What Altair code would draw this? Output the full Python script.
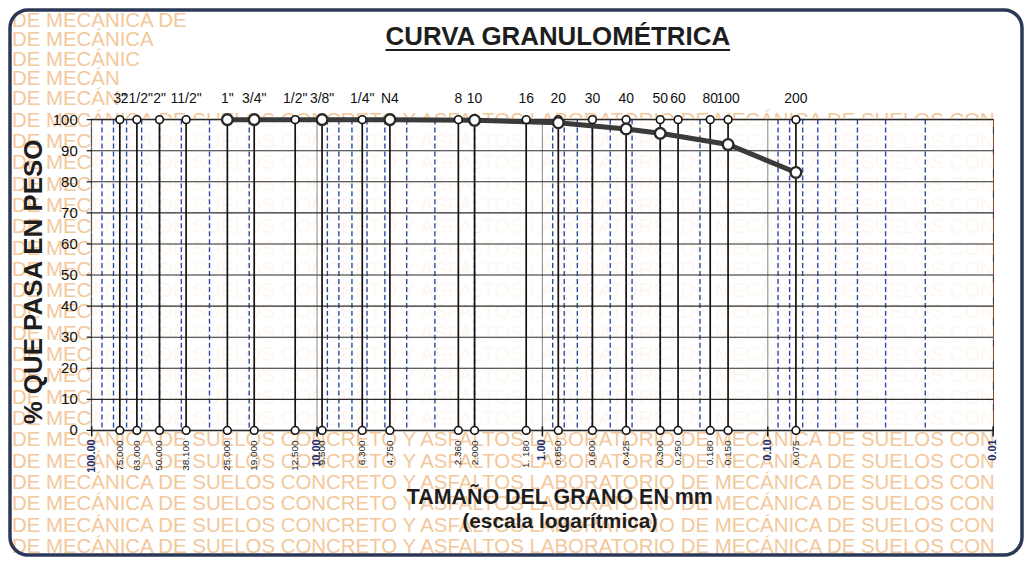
import altair as alt
import pandas as pd

# ---------------- data ----------------
sieve_names = ['3"', '21/2"', '2"', '11/2"', '1"', '3/4"', '1/2"', '3/8"', '1/4"', 'N4',
               '8', '10', '16', '20', '30', '40', '50', '60', '80', '100', '200']
sieve_mm = [75.0, 63.0, 50.0, 38.1, 25.0, 19.0, 12.5, 9.5, 6.3, 4.75,
            2.36, 2.0, 1.18, 0.85, 0.6, 0.425, 0.3, 0.25, 0.18, 0.15, 0.075]
sieve_mm_labels = ['75.000', '63.000', '50.000', '38.100', '25.000', '19.000', '12.500', '9.500',
                   '6.300', '4.750', '2.360', '2.000', '1. 180', '0.850', '0.600', '0.425',
                   '0.300', '0.250', '0.180', '0.150', '0.075']
decade_mm = [100, 10, 1, 0.1, 0.01]
decade_labels = ['100.00', '10.00', '1.00', '0.10', '0.01']
inner_decades = [10, 1, 0.1]
minor_mm = [90, 80, 70, 60, 50, 40, 30, 20,
            9, 8, 7, 6, 5, 4, 3, 2,
            0.9, 0.8, 0.7, 0.6, 0.5, 0.4, 0.3, 0.2,
            0.09, 0.08, 0.07, 0.06, 0.05, 0.04, 0.03, 0.02]
curve_mm = [25.0, 19.0, 9.5, 4.75, 2.0, 0.85, 0.425, 0.3, 0.15, 0.075]
curve_pct = [100, 100, 100, 100, 99.8, 99.0, 97.0, 95.6, 92.0, 83.0]
pct_ticks = [0, 10, 20, 30, 40, 50, 60, 70, 80, 90, 100]

title_text = 'CURVA GRANULOMÉTRICA'
y_title = '% QUE PASA EN PESO'
x_title1 = 'TAMAÑO DEL GRANO EN mm'
x_title2 = '(escala logarítmica)'
wm_full = 'DE MECÁNICA DE SUELOS CONCRETO Y ASFALTOS LABORATORIO DE MECÁNICA DE SUELOS CON'
wm_short = ['DE MECÁNICA DE', 'DE MECÁNICA', 'DE MECÁNIC', 'DE MECÁN', 'DE MECÁN']

FONT = 'Liberation Sans'
W, H = 905, 312

xs = alt.Scale(type='log', domain=[0.01, 100], reverse=True, nice=False)
ys = alt.Scale(domain=[0, 100], nice=False, zero=False)

sieves = pd.DataFrame({'mm': sieve_mm, 'name': sieve_names, 'lab': sieve_mm_labels,
                       'lo': 0, 'hi': 100})
ends = pd.DataFrame({'mm': sieve_mm * 2, 'pct': [0] * len(sieve_mm) + [100] * len(sieve_mm)})
curve = pd.DataFrame({'mm': curve_mm, 'pct': curve_pct})
minor = pd.DataFrame({'mm': minor_mm})
inner = pd.DataFrame({'mm': inner_decades})
decades = pd.DataFrame({'mm': decade_mm, 'lab': decade_labels, 'lo': 0})
yt = pd.DataFrame({'pct': pct_ticks})
one = pd.DataFrame({'k': [0]})

X = lambda f='mm:Q': alt.X(f, scale=xs, axis=None)
Y = lambda f: alt.Y(f, scale=ys, axis=None)


def label(txt, x, y, size, angle=0, weight='bold', color='#1e1e1e', align='center', opacity=1.0):
    kw = dict(align=align, baseline='middle', font=FONT, fontSize=size, fontWeight=weight,
              color=color, opacity=opacity)
    if angle:
        kw['angle'] = angle
    return alt.Chart(pd.DataFrame({'t': [txt]})).mark_text(**kw).encode(
        x=alt.value(x), y=alt.value(y), text='t:N')


# watermark rows (background decoration)
wm_top = [label(t, -80, -99 + i * 19.5, 20.5, weight='normal', color='#f2c08a',
                align='left', opacity=0.85) for i, t in enumerate(wm_short)]
wm_body = [label(wm_full, -80, 1 + i * 21.4, 20.5, weight='normal', color='#f2c08a',
                 align='left', opacity=0.85) for i in range(21)]

veil = alt.Chart(one).mark_rect(color='white', opacity=0.85).encode(
    x=alt.value(0), x2=alt.value(W), y=alt.value(0), y2=alt.value(H))

minor_rules = alt.Chart(minor).mark_rule(color='#2a4aa8', strokeDash=[5, 3], strokeWidth=1.4).encode(
    x=X())
inner_rules = alt.Chart(inner).mark_rule(color='#9a9a9a', strokeWidth=1.2).encode(x=X())

# horizontal grid, y ticks and y labels
hgrid = alt.Chart(yt).mark_rule(color='#2a2a2a', strokeWidth=1.1).encode(y=Y('pct:Q'))
yticks = alt.Chart(yt).mark_rule(color='#111', strokeWidth=1.2).encode(
    y=Y('pct:Q'), x=alt.value(-5), x2=alt.value(0))
ylabels = alt.Chart(yt).mark_text(align='right', baseline='middle', font=FONT, fontSize=15,
                                  color='#111').encode(
    y=Y('pct:Q'), x=alt.value(-14), text='pct:Q')
xticks = alt.Chart(decades).mark_rule(color='#111', strokeWidth=1.5).encode(
    x=X(), y=alt.value(H - 4), y2=alt.value(H + 6))

sieve_rules = alt.Chart(sieves).mark_rule(color='#111', strokeWidth=1.7).encode(
    x=X(), y=Y('lo:Q'), y2='hi:Q')

line = alt.Chart(curve).mark_line(color='#3a3a3a', strokeWidth=5).encode(x=X(), y=Y('pct:Q'))

end_pts = alt.Chart(ends).mark_point(shape='circle', filled=True, fill='white', stroke='#111',
                                     strokeWidth=1.6, size=60, opacity=1).encode(
    x=X(), y=Y('pct:Q'))

data_pts = alt.Chart(curve).mark_point(shape='circle', filled=True, fill='white', stroke='#2a2a2a',
                                       strokeWidth=2.4, size=115, opacity=1).encode(
    x=X(), y=Y('pct:Q'))

top_labels = alt.Chart(sieves).mark_text(baseline='bottom', dy=-14, font=FONT, fontSize=14,
                                         color='#111').encode(
    x=X(), y=Y('hi:Q'), text='name:N')

bottom_labels = alt.Chart(sieves).mark_text(angle=270, align='right', baseline='middle', dx=-10,
                                            font=FONT, fontSize=10, color='#222').encode(
    x=X(), y=Y('lo:Q'), text='lab:N')

decade_text = alt.Chart(decades).mark_text(angle=270, align='right', baseline='middle', dx=-9,
                                           font=FONT, fontSize=11, fontWeight='bold',
                                           color='#1d2c6e').encode(
    x=X(), y=Y('lo:Q'), text='lab:N')

title = label(title_text, 468, -83, 26)
underline = alt.Chart(one).mark_rule(color='#1e1e1e', strokeWidth=2).encode(
    x=alt.value(295), x2=alt.value(641), y=alt.value(-70))
ytitle = label(y_title, -58, 163, 26, angle=270)
xt1 = label(x_title1, 470, 380, 21.5)
xt2 = label(x_title2, 470, 404, 21)

frame = alt.Chart(one).mark_rect(fillOpacity=0, stroke='#2c3857', strokeWidth=3.5,
                                 cornerRadius=18).encode(
    x=alt.value(-82), x2=alt.value(934), y=alt.value(-110), y2=alt.value(437))

chart = alt.layer(
    *wm_top, *wm_body, veil, minor_rules, inner_rules, hgrid, yticks, ylabels, xticks, sieve_rules,
    line, end_pts, data_pts, top_labels, bottom_labels, decade_text,
    title, underline, ytitle, xt1, xt2, frame
).properties(
    width=W, height=H,
    padding={'left': 84, 'top': 111, 'right': 31, 'bottom': 127},
    autosize=alt.AutoSizeParams(type='none'),
    background='white'
).configure_view(
    stroke='#111', strokeWidth=1.6, fill='white'
)

chart.save('out.html', embed_options={'renderer': 'svg', 'actions': False})
